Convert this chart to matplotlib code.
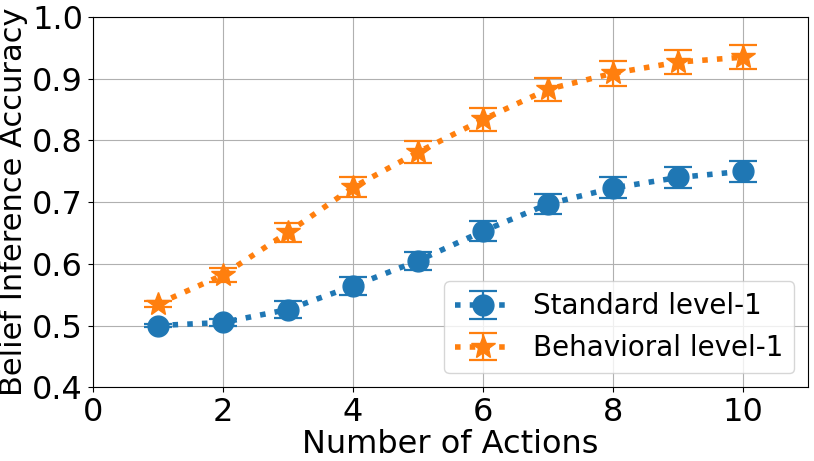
import matplotlib
matplotlib.use("Agg")
import matplotlib.pyplot as plt

actions = [1, 2, 3, 4, 5, 6, 7, 8, 9, 10]
standard = [0.500, 0.505, 0.526, 0.564, 0.605, 0.653, 0.697, 0.723, 0.740, 0.750]
standard_err = [0.003, 0.006, 0.013, 0.014, 0.015, 0.016, 0.016, 0.017, 0.017, 0.017]
behavioral = [0.535, 0.582, 0.651, 0.724, 0.781, 0.834, 0.883, 0.909, 0.927, 0.935]
behavioral_err = [0.005, 0.012, 0.015, 0.016, 0.018, 0.019, 0.019, 0.020, 0.020, 0.020]
yticks = [0.4, 0.5, 0.6, 0.7, 0.8, 0.9, 1.0]

fig, ax = plt.subplots(figsize=(8.14, 4.61), dpi=100)
ax.errorbar(actions, standard, yerr=standard_err, fmt="o:", color="tab:blue",
            markersize=15, linewidth=4, capsize=10, elinewidth=1.6, capthick=1.6,
            label="Standard level-1")
ax.errorbar(actions, behavioral, yerr=behavioral_err, fmt="*:", color="tab:orange",
            markersize=18, linewidth=4, capsize=10, elinewidth=1.6, capthick=1.6,
            label="Behavioral level-1")

ax.set_xlim(0, 11)
ax.set_ylim(0.4, 1.0)
ax.set_xticks([0, 2, 4, 6, 8, 10])
ax.set_yticks(yticks)
ax.tick_params(labelsize=23)
ax.set_xlabel("Number of Actions", fontsize=23, labelpad=1)
ax.set_ylabel("Belief Inference Accuracy", fontsize=22, labelpad=3)
ax.grid(True)
ax.legend(loc="lower right", fontsize=20)

plt.subplots_adjust(left=0.114, right=0.993, top=0.963, bottom=0.16)
plt.savefig("out.png")
